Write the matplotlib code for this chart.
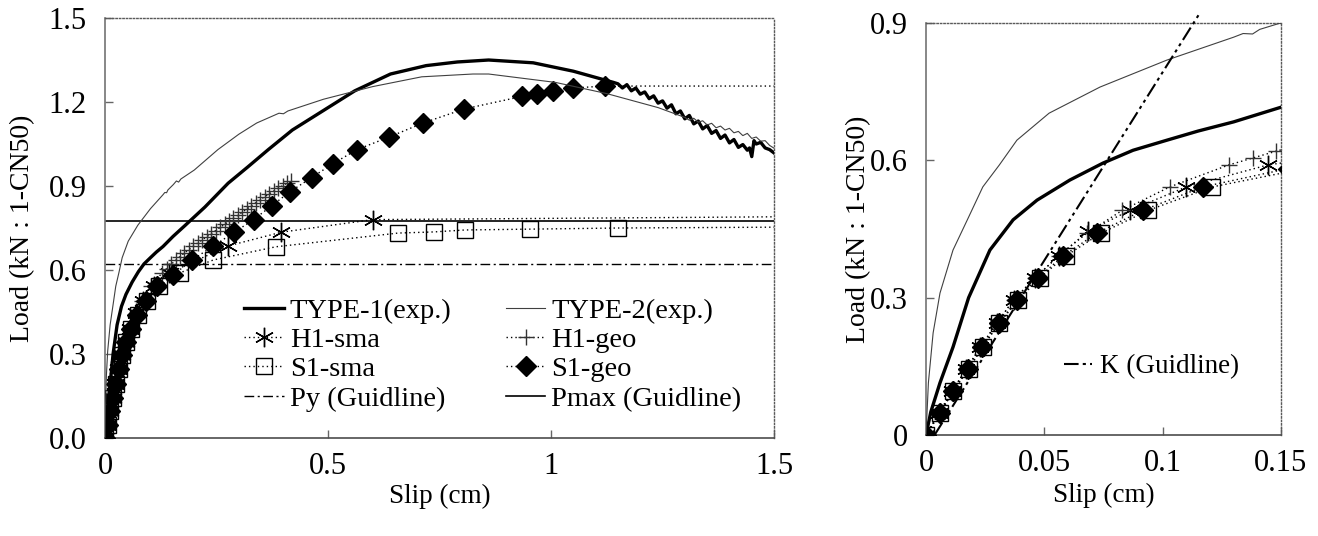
import numpy as np
import matplotlib
matplotlib.use("Agg")
import matplotlib.pyplot as plt

plt.rcParams['font.family'] = ['Liberation Serif', 'DejaVu Serif']
plt.rcParams['font.size'] = 19

# ---- data ----
# TYPE-1 (exp.), thick solid
type1_x = [0, 0.002, 0.0059, 0.0114, 0.018, 0.027, 0.0368, 0.0469, 0.0608, 0.0748,
           0.0875, 0.1018, 0.115, 0.13, 0.1525, 0.18, 0.224, 0.276, 0.32, 0.366,
           0.42, 0.49, 0.56, 0.64, 0.72, 0.79, 0.86, 0.96, 1.05, 1.14,
           1.15, 1.16, 1.17, 1.18, 1.19, 1.20, 1.21, 1.22, 1.23, 1.24, 1.25, 1.26,
           1.27, 1.28, 1.29, 1.30, 1.31, 1.32, 1.33, 1.34, 1.35, 1.36, 1.37, 1.38,
           1.39, 1.40, 1.41, 1.42, 1.43, 1.44, 1.445, 1.45, 1.455, 1.46, 1.47, 1.48,
           1.49, 1.50]
type1_y = [0, 0.05, 0.114, 0.192, 0.30, 0.404, 0.47, 0.513, 0.557, 0.594,
           0.622, 0.644, 0.664, 0.684, 0.72, 0.76, 0.825, 0.91, 0.968, 1.03,
           1.10, 1.17, 1.24, 1.30, 1.33, 1.343, 1.35, 1.34, 1.31, 1.27,
           1.265, 1.250, 1.262, 1.240, 1.250, 1.228, 1.236, 1.212, 1.222, 1.196, 1.204, 1.178,
           1.190, 1.158, 1.168, 1.140, 1.152, 1.122, 1.132, 1.104, 1.116, 1.088, 1.098, 1.070,
           1.082, 1.054, 1.066, 1.038, 1.048, 1.028, 1.036, 1.005, 1.062, 1.050, 1.056, 1.036,
           1.030, 1.018]

# TYPE-2 (exp.), thin solid
type2_x = [0, 0.001, 0.003, 0.0059, 0.0114, 0.018, 0.024, 0.031, 0.0384, 0.052,
           0.0735, 0.1018, 0.13, 0.134, 0.138, 0.141, 0.153, 0.16, 0.165, 0.17,
           0.20, 0.253, 0.30, 0.34, 0.39, 0.40, 0.41, 0.49, 0.60, 0.71, 0.825,
           0.86, 1.01, 1.125, 1.24,
           1.30, 1.31, 1.32, 1.33, 1.34, 1.35, 1.36, 1.37, 1.38, 1.39, 1.40, 1.41,
           1.42, 1.43, 1.44, 1.45, 1.46, 1.47, 1.48, 1.49, 1.50]
type2_y = [0, 0.114, 0.223, 0.31, 0.404, 0.476, 0.542, 0.59, 0.644, 0.703,
           0.76, 0.819, 0.869, 0.877, 0.876, 0.886, 0.905, 0.918, 0.914, 0.925,
           0.957, 1.03, 1.085, 1.125, 1.16, 1.158, 1.168, 1.21, 1.255, 1.29, 1.30,
           1.30, 1.27, 1.23, 1.18,
           1.145, 1.135, 1.142, 1.128, 1.133, 1.118, 1.124, 1.108, 1.114, 1.100, 1.106, 1.090,
           1.095, 1.080, 1.088, 1.070, 1.075, 1.060, 1.062, 1.045, 1.035]

# H1-sma (asterisk); last point only carries the dotted line to the edge
h1sma_x = [0, 0.0055, 0.011, 0.017, 0.023, 0.030, 0.037, 0.046, 0.056, 0.0685,
           0.0862, 0.110, 0.1445, 0.276, 0.395, 0.60, 1.5]
h1sma_y = [0, 0.048, 0.096, 0.144, 0.192, 0.245, 0.295, 0.343, 0.391, 0.445,
           0.491, 0.542, 0.59, 0.686, 0.735, 0.78, 0.79]

# H1-geo (plus)
h1geo_x = [0, 0.0055, 0.011, 0.017, 0.023, 0.030, 0.037, 0.046, 0.056, 0.068,
           0.083, 0.103, 0.128, 0.138, 0.148, 0.158, 0.168, 0.178, 0.188, 0.198,
           0.208, 0.218, 0.228, 0.238, 0.248, 0.258, 0.268, 0.278, 0.288, 0.298,
           0.308, 0.318, 0.328, 0.338, 0.348, 0.358, 0.368, 0.378, 0.388, 0.398,
           0.408, 0.418]
h1geo_y = [0, 0.048, 0.096, 0.144, 0.192, 0.245, 0.295, 0.343, 0.391, 0.441,
           0.491, 0.542, 0.59, 0.605, 0.620, 0.634, 0.648, 0.661, 0.673, 0.685,
           0.697, 0.708, 0.719, 0.730, 0.741, 0.752, 0.763, 0.774, 0.785, 0.796,
           0.807, 0.818, 0.829, 0.840, 0.851, 0.862, 0.872, 0.882, 0.892, 0.901,
           0.910, 0.918]

# S1-sma (open square)
s1sma_x = [0, 0.006, 0.0115, 0.018, 0.024, 0.031, 0.039, 0.048, 0.059, 0.074,
           0.094, 0.121, 0.168, 0.243, 0.383, 0.657, 0.737, 0.807, 0.953, 1.15, 1.5]
s1sma_y = [0, 0.048, 0.096, 0.144, 0.192, 0.245, 0.295, 0.343, 0.391, 0.441,
           0.491, 0.542, 0.59, 0.636, 0.683, 0.732, 0.736, 0.743, 0.746, 0.75, 0.753]

# S1-geo (filled diamond)
s1geo_x = [0, 0.0059, 0.0114, 0.0177, 0.0237, 0.0308, 0.0384, 0.0473, 0.0579, 0.0722,
           0.0917, 0.117, 0.153, 0.195, 0.243, 0.29, 0.333, 0.374, 0.415, 0.463,
           0.511, 0.565, 0.637, 0.713, 0.805, 0.935, 0.968, 1.005, 1.05, 1.12, 1.5]
s1geo_y = [0, 0.048, 0.096, 0.144, 0.192, 0.245, 0.295, 0.343, 0.391, 0.441,
           0.491, 0.542, 0.582, 0.636, 0.686, 0.735, 0.78, 0.83, 0.88, 0.93,
           0.98, 1.03, 1.075, 1.125, 1.175, 1.22, 1.23, 1.24, 1.25, 1.257, 1.257]

# guideline values
py_load = 0.622
pmax_load = 0.776
k_x = [0.0036, 0.1155]
k_y = [0.0, 0.92]

left_xticks = [0, 0.5, 1, 1.5]
left_xticklabels = ["0", "0.5", "1", "1.5"]
left_yticks = [0.0, 0.3, 0.6, 0.9, 1.2, 1.5]
left_yticklabels = ["0.0", "0.3", "0.6", "0.9", "1.2", "1.5"]
right_xticks = [0, 0.05, 0.1, 0.15]
right_xticklabels = ["0", "0.05", "0.1", "0.15"]
right_yticks = [0, 0.3, 0.6, 0.9]
right_yticklabels = ["0", "0.3", "0.6", "0.9"]

asterisk = (6, 2, 0)
dots = (0, (1, 2.2))


def draw_series(ax):
    ax.plot(type1_x, type1_y, color="black", lw=2.4, label="TYPE-1(exp.)", zorder=4)
    ax.plot(type2_x, type2_y, color="0.25", lw=0.8, label="TYPE-2(exp.)", zorder=4)
    ax.plot(h1sma_x, h1sma_y, ls=dots, color="black", lw=1.0,
            marker=asterisk, ms=14, mew=1.0, mec="black",
            markevery=slice(0, -1), label="H1-sma", zorder=3)
    ax.plot(h1geo_x, h1geo_y, ls=dots, color="black", lw=1.0,
            marker="+", ms=11, mew=1.0, mec="0.2",
            label="H1-geo", zorder=3)
    ax.plot(s1sma_x, s1sma_y, ls=dots, color="black", lw=1.0,
            marker="s", ms=11, mew=1.0, mfc="none", mec="black",
            markevery=slice(0, -1), label="S1-sma", zorder=3)
    ax.plot(s1geo_x, s1geo_y, ls=dots, color="black", lw=1.0,
            marker="D", ms=10, mfc="black", mec="black",
            markevery=slice(0, -1), label="S1-geo", zorder=3)


def style_axes(ax):
    for side in ("top", "right"):
        ax.spines[side].set_linestyle((0, (1, 1.5)))
        ax.spines[side].set_color("0.35")
        ax.spines[side].set_linewidth(1.0)
    ax.spines["left"].set_color("0.45")
    ax.spines["bottom"].set_color("0.3")
    ax.spines["left"].set_linewidth(1.2)
    ax.spines["bottom"].set_linewidth(1.2)
    ax.tick_params(direction="in", length=6, width=1, color="0.4", labelsize=22)
    ax.tick_params(axis="x", pad=10)
    ax.tick_params(axis="y", pad=13)


fig = plt.figure(figsize=(13.18, 5.36), dpi=100)

# ---- left panel ----
ax1 = fig.add_axes([0.0797, 0.1828, 0.5076, 0.7836])
draw_series(ax1)
ax1.axhline(py_load, color="black", lw=1.0, ls=(0, (7, 2.5, 1.5, 2.5)),
            label="Py (Guidline)", zorder=2)
ax1.axhline(pmax_load, color="black", lw=1.2, label="Pmax (Guidline)", zorder=2)
ax1.set_xlim(0, 1.5)
ax1.set_ylim(0, 1.5)
ax1.set_xticks(left_xticks)
ax1.set_xticklabels(left_xticklabels)
ax1.set_yticks(left_yticks)
ax1.set_yticklabels(left_yticklabels)
ax1.set_xlabel("Slip (cm)", fontsize=19.5)
ax1.set_ylabel("Load (kN : 1-CN50)", fontsize=20)
ax1.xaxis.set_label_coords(0.5, -0.108)
ax1.yaxis.set_label_coords(-0.105, 0.5)
style_axes(ax1)

handles, labels = ax1.get_legend_handles_labels()
order = ["TYPE-1(exp.)", "H1-sma", "S1-sma", "Py (Guidline)",
         "TYPE-2(exp.)", "H1-geo", "S1-geo", "Pmax (Guidline)"]
hmap = dict(zip(labels, handles))
ax1.legend([hmap[k] for k in order], order, ncol=2, frameon=False,
           loc="upper left", bbox_to_anchor=(0.208, 0.334), fontsize=20.5,
           handlelength=1.4, handletextpad=0.2, labelspacing=0.12,
           columnspacing=1.9, borderaxespad=0, borderpad=0)

# ---- right panel ----
ax2 = fig.add_axes([0.7026, 0.1884, 0.2693, 0.7687])
draw_series(ax2)
ax2.plot(k_x, k_y, color="black", lw=1.5, ls=(0, (7, 2, 1.5, 2, 1.5, 2)),
         label="K (Guidline)", clip_on=False, zorder=5)
ax2.set_xlim(0, 0.15)
ax2.set_ylim(0, 0.9)
ax2.set_xticks(right_xticks)
ax2.set_xticklabels(right_xticklabels)
ax2.set_yticks(right_yticks)
ax2.set_yticklabels(right_yticklabels)
ax2.set_xlabel("Slip (cm)", fontsize=19.5)
ax2.set_ylabel("Load (kN : 1-CN50)", fontsize=20)
ax2.xaxis.set_label_coords(0.5, -0.116)
ax2.yaxis.set_label_coords(-0.155, 0.5)
style_axes(ax2)
h2, l2 = ax2.get_legend_handles_labels()
ax2.legend([h2[-1]], [l2[-1]], frameon=False, loc="center left",
           bbox_to_anchor=(0.39, 0.165), fontsize=19.5, handlelength=1.0,
           handletextpad=0.3, borderaxespad=0, borderpad=0)

fig.savefig("out.png", dpi=100)
